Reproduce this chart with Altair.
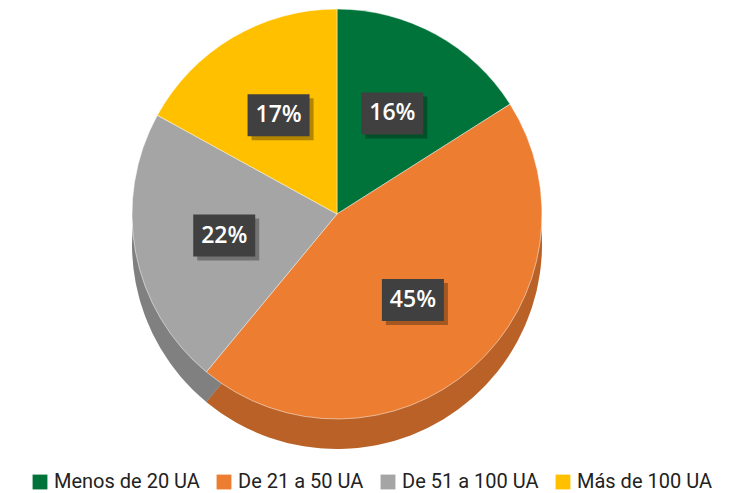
import altair as alt
import pandas as pd

categories = ["Menos de 20 UA", "De 21 a 50 UA", "De 51 a 100 UA", "Más de 100 UA"]
values = [16, 45, 22, 17]
labels = ["16%", "45%", "22%", "17%"]
colors = ["#00733A", "#ED7D31", "#A5A5A5", "#FFC000"]

df = pd.DataFrame({"cat": categories, "value": values, "label": labels, "idx": list(range(len(values)))})

W, H = 726, 445
CX, CY, R, DEPTH = 329, 200, 205, 30
LR = 0.56 * R

xs = alt.Scale(domain=[0, W], nice=False, zero=False)
ys = alt.Scale(domain=[H, 0], nice=False, zero=False)

base = alt.Chart(df)
color = alt.Color("cat:N", scale=alt.Scale(domain=categories, range=colors),
                  legend=alt.Legend(title=None, orient="none", direction="horizontal",
                                    legendX=22, legendY=458, symbolType="square",
                                    symbolSize=220, labelFontSize=20, labelFont="Roboto",
                                    labelColor="#222222", columnPadding=14, symbolStrokeWidth=0))

side = base.mark_arc(outerRadius=R).encode(
    theta=alt.Theta("value:Q", stack=True), order=alt.Order("idx:Q"), color=color,
    x=alt.value(CX), y=alt.value(CY + DEPTH))
side_shade = alt.Chart(pd.DataFrame({"v": [sum(values)]})).mark_arc(outerRadius=R, color="black", opacity=0.22).encode(
    theta=alt.Theta("v:Q"), x=alt.value(CX), y=alt.value(CY + DEPTH))
top = base.mark_arc(outerRadius=R, stroke="white", strokeWidth=0.5).encode(
    theta=alt.Theta("value:Q", stack=True), order=alt.Order("idx:Q"), color=color,
    x=alt.value(CX), y=alt.value(CY))

lab = base.transform_joinaggregate(total="sum(value)").transform_window(
    cum="sum(value)", sort=[alt.SortField("idx")], frame=[None, 0]
).transform_calculate(
    mid="(datum.cum - datum.value/2)/datum.total*2*PI",
).transform_calculate(
    lx=f"{CX} + {LR}*sin(datum.mid)", ly=f"{CY} - {LR}*cos(datum.mid)"
).transform_calculate(
    x1="datum.lx - 31", x2="datum.lx + 31", y1="datum.ly - 21", y2="datum.ly + 21",
    sx1="datum.lx - 27", sx2="datum.lx + 35", sy1="datum.ly - 17", sy2="datum.ly + 25",
)

shadow = lab.mark_rect(color="black", opacity=0.3).encode(
    x=alt.X("sx1:Q", scale=xs, axis=None), x2="sx2:Q",
    y=alt.Y("sy1:Q", scale=ys, axis=None), y2="sy2:Q")
box = lab.mark_rect(color="#404040").encode(
    x=alt.X("x1:Q", scale=xs, axis=None), x2="x2:Q",
    y=alt.Y("y1:Q", scale=ys, axis=None), y2="y2:Q")
txt = lab.mark_text(color="white", fontSize=23, font="Open Sans", fontWeight=600).encode(
    x=alt.X("lx:Q", scale=xs, axis=None), y=alt.Y("ly:Q", scale=ys, axis=None), text="label:N")

chart = alt.layer(side, side_shade, top, shadow, box, txt).properties(
    width=W, height=H, padding=0
).configure_view(stroke=None)

chart.save("out.html", embed_options={"renderer": "svg", "actions": False})
